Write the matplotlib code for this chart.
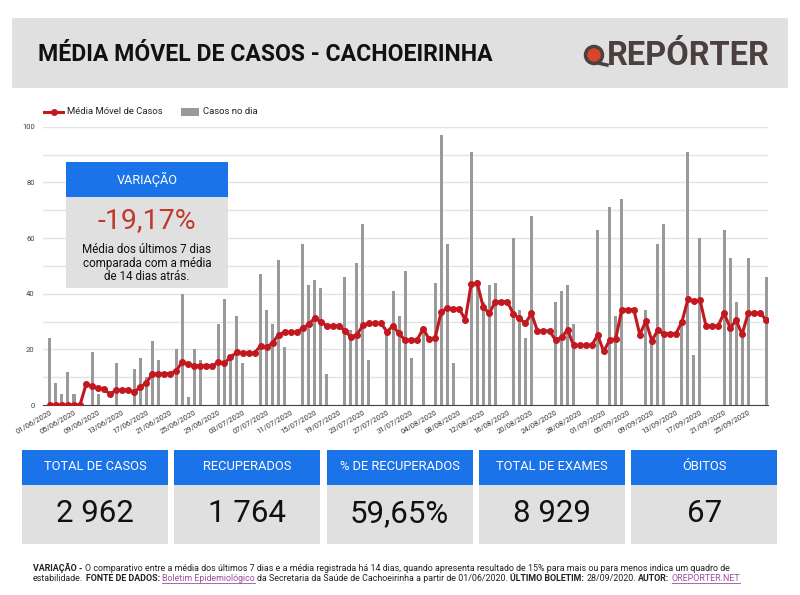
import numpy as np
import matplotlib.pyplot as plt
from matplotlib.patches import Rectangle, Ellipse
from matplotlib.lines import Line2D

# casos por dia, 01/06/2020 a 28/09/2020
casos = [24, 8, 4, 12, 4, 0, 0, 19, 4, 0, 0, 15, 0, 0, 13, 17, 10, 23, 16, 0,
         0, 20, 40, 3, 20, 16, 0, 0, 29, 38, 17, 32, 15, 0, 0, 47, 34, 29, 52, 21,
         0, 0, 58, 43, 45, 42, 11, 0, 0, 46, 27, 51, 65, 16, 0, 0, 26, 41, 32, 48,
         17, 0, 28, 0, 44, 97, 58, 15, 0, 0, 91, 45, 37, 43, 44, 0, 0, 60, 34, 24,
         68, 0, 0, 0, 37, 41, 43, 29, 0, 0, 0, 63, 0, 71, 32, 74, 0, 0, 0, 34,
         22, 58, 65, 0, 0, 30, 91, 18, 60, 0, 0, 0, 63, 53, 37, 25, 53, 0, 0, 46]

media_movel = [0, 0, 0, 0, 0, 0, 7.4, 6.7, 6.1, 5.6, 3.9, 5.4, 5.4, 5.4, 4.6, 6.4,
               7.9, 11.1, 11.3, 11.3, 11.3, 12.3, 15.6, 14.6, 14.1, 14.1, 14.1, 14.1,
               15.4, 15.1, 17.1, 18.9, 18.7, 18.7, 18.7, 21.3, 20.7, 22.4, 25.3, 26.1,
               26.1, 26.1, 27.7, 29.0, 31.3, 29.9, 28.4, 28.4, 28.4, 26.7, 24.4, 25.3,
               28.6, 29.3, 29.3, 29.3, 26.4, 28.4, 25.7, 23.3, 23.4, 23.4, 27.4, 23.7,
               24.1, 33.4, 34.9, 34.6, 34.6, 30.6, 43.6, 43.7, 35.1, 33.0, 37.1, 37.1,
               37.1, 32.7, 31.1, 29.3, 32.9, 26.6, 26.6, 26.6, 23.3, 24.3, 27.0, 21.4,
               21.4, 21.4, 21.4, 25.1, 19.3, 23.3, 23.7, 34.3, 34.3, 34.3, 25.3, 30.1,
               23.1, 26.9, 25.6, 25.6, 25.6, 29.9, 38.0, 37.4, 37.7, 28.4, 28.4, 28.4,
               33.1, 27.7, 30.4, 25.4, 33.0, 33.0, 33.0, 30.6]

datas_eixo = ['01/06/2020', '05/06/2020', '09/06/2020', '13/06/2020', '17/06/2020',
              '21/06/2020', '25/06/2020', '29/06/2020', '03/07/2020', '07/07/2020',
              '11/07/2020', '15/07/2020', '19/07/2020', '23/07/2020', '27/07/2020',
              '31/07/2020', '04/08/2020', '08/08/2020', '12/08/2020', '16/08/2020',
              '20/08/2020', '24/08/2020', '28/08/2020', '01/09/2020', '05/09/2020',
              '09/09/2020', '13/09/2020', '17/09/2020', '21/09/2020', '25/09/2020']

card_titles = ['TOTAL DE CASOS', 'RECUPERADOS', '% DE RECUPERADOS',
               'TOTAL DE EXAMES', 'ÓBITOS']
card_values = ['2 962', '1 764', '59,65%', '8 929', '67']

variacao = '-19,17%'

W, H = 800, 595
BLUE = '#1a73e8'
GRAY = '#e0e0e0'
RED = '#c2181f'
LINK = '#9c4f9c'


def fx(x):
    return x / W


def fy(y):
    return 1 - y / H


plt.rcParams['font.family'] = ['Roboto', 'DejaVu Sans']
fig = plt.figure(figsize=(8, 5.95), dpi=100)


def rect(x0, y0, x1, y1, color, z=2):
    fig.add_artist(Rectangle((fx(x0), fy(y1)), (x1 - x0) / W, (y1 - y0) / H,
                             transform=fig.transFigure, facecolor=color,
                             edgecolor='none', zorder=z))


# header
rect(12, 18, 788, 88, GRAY)
fig.text(fx(38), fy(54.5), 'MÉDIA MÓVEL DE CASOS - CACHOEIRINHA', size=16.6,
         weight='bold', color='#111111', va='center', ha='left', zorder=3)
fig.add_artist(Ellipse((fx(594), fy(55)), 17 / W, 17 / H, transform=fig.transFigure,
                       facecolor='#d9452b', edgecolor='#4a403f', lw=2.5, zorder=3))
fig.add_artist(Line2D([fx(598), fx(607)], [fy(63), fy(65)], color='#4a403f',
                      lw=2.5, transform=fig.transFigure, zorder=3))
fig.text(fx(607), fy(56), 'REPÓRTER', size=23.5, weight='bold', color='#4a403f',
         va='center', ha='left', zorder=3)

# chart
ax = fig.add_axes([fx(43), fy(405), 725 / W, (405 - 126.7) / H])
x = np.arange(len(casos))
ax.bar(x, casos, width=0.5, color='#9a9a9a', zorder=2)
ax.plot(x, media_movel, color=RED, lw=2.2, marker='o', ms=4, zorder=3)
ax.set_xlim(-1.15, 119.3)
ax.set_ylim(0, 100)
ax.set_yticks(range(0, 101, 20))
ax.set_yticks(range(10, 100, 20), minor=True)
ax.yaxis.grid(True, which='both', color='#e3e3e3', lw=1, zorder=0)
ax.set_axisbelow(True)
for s in ['top', 'right', 'left']:
    ax.spines[s].set_visible(False)
ax.spines['bottom'].set_color('#444444')
ax.tick_params(axis='y', which='both', length=0, labelsize=5.5, pad=6,
               labelcolor='#444444')
ax.set_xticks(x[::4])
ax.set_xticklabels(datas_eixo, rotation=30, ha='right', rotation_mode='anchor',
                   fontsize=5.5, color='#333333')
ax.tick_params(axis='x', length=0, pad=3)

# legend
fig.add_artist(Line2D([fx(44), fx(63)], [fy(112), fy(112)], color=RED, lw=2.2,
                      transform=fig.transFigure, zorder=3))
fig.add_artist(Line2D([fx(53.5)], [fy(112)], color=RED, marker='o', ms=4,
                      transform=fig.transFigure, zorder=3))
fig.text(fx(67), fy(112), 'Média Móvel de Casos', size=6.8, va='center',
         color='#222222')
rect(181, 108, 199, 116, '#9a9a9a')
fig.text(fx(203), fy(112), 'Casos no dia', size=6.8, va='center', color='#222222')

# variation box
rect(66, 162, 228, 197, BLUE, z=4)
rect(66, 197, 228, 288, GRAY, z=4)
fig.text(fx(147), fy(179), 'VARIAÇÃO', size=9.2, color='white', ha='center',
         va='center', zorder=5)
fig.text(fx(147), fy(221), variacao, size=20.5, color='#c0392b', ha='center',
         va='center', zorder=5)
for i, line in enumerate(['Média dos últimos 7 dias', 'comparada com a média',
                          'de 14 dias atrás.']):
    fig.text(fx(147), fy(249 + 14 * i), line, size=8.4, color='#111111',
             ha='center', va='center', zorder=5)

# cards
for i, (t, v) in enumerate(zip(card_titles, card_values)):
    x0 = 22 + i * 152.3
    rect(x0, 450, x0 + 146, 485, BLUE)
    rect(x0, 485, x0 + 146, 544, GRAY)
    fig.text(fx(x0 + 73), fy(467), t, size=9.3, color='white', ha='center',
             va='center', zorder=3)
    fig.text(fx(x0 + 73), fy(514), v, size=22.5, color='#111111', ha='center',
             va='center', zorder=3)

# footer
renderer = fig.canvas.get_renderer()


def rich(x, y, parts, size=6.4):
    probe = fig.text(0, 0, 'a a', size=size)
    w2 = probe.get_window_extent(renderer).width
    probe.set_text('aa')
    gap = w2 - probe.get_window_extent(renderer).width
    probe.remove()
    px = x
    for s, style in parts:
        color = LINK if style == 'link' else '#222222'
        weight = 'bold' if style == 'b' else 'normal'
        t = fig.text(fx(px), fy(y), s, size=size, weight=weight, color=color,
                     va='baseline', ha='left')
        w = t.get_window_extent(renderer).width
        if style == 'link':
            fig.add_artist(Line2D([fx(px), fx(px + w)], [fy(y + 1.6)] * 2,
                                  color=LINK, lw=0.6, transform=fig.transFigure))
        px += w + gap


rich(33, 571, [('VARIAÇÃO -', 'b'),
               ('O comparativo entre a média dos últimos 7 dias e a média registrada '
                'há 14 dias, quando apresenta resultado de 15% para mais ou para '
                'menos indica um quadro de', 'n')])
rich(33, 581, [('estabilidade.', 'n'), ('FONTE DE DADOS:', 'b'),
               ('Boletim Epidemiológico', 'link'),
               ('da Secretaria da Saúde de Cachoeirinha a partir de 01/06/2020.', 'n'),
               ('ÚLTIMO BOLETIM:', 'b'), ('28/09/2020.', 'n'), ('AUTOR:', 'b'),
               ('OREPORTER.NET', 'link')])

fig.savefig('out.png', dpi=100)
